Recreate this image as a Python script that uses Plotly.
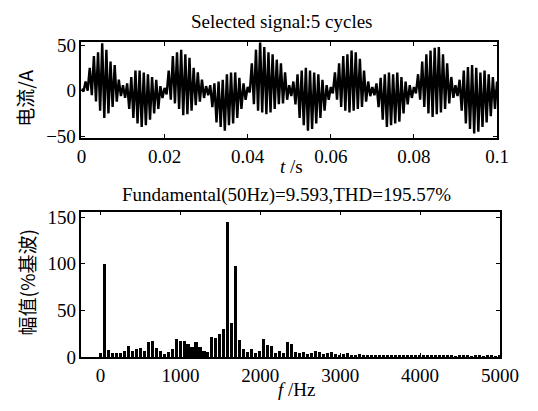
import plotly.graph_objects as go

# ---- top panel: signal envelope extremes (A) ----
t_step_ms = 1.0  # sampling of read-off extremes
upper_A = [2, 10, 25, 38, 42, 52, 45, 32, 28, 12,
           6, 8, 15, 22, 22, 20, 18, 15, 12, 5,
           3, 22, 38, 42, 45, 40, 36, 25, 20, 12,
           5, 6, 8, 10, 12, 18, 20, 20, 14, 8,
           4, 30, 45, 54, 48, 42, 40, 34, 30, 20,
           6, 10, 18, 22, 25, 22, 20, 18, 12, 6,
           4, 20, 30, 38, 40, 44, 42, 35, 22, 10,
           4, 8, 14, 18, 20, 18, 20, 15, 10, 6,
           4, 18, 32, 40, 44, 47, 48, 40, 30, 15,
           6, 12, 22, 26, 28, 25, 20, 22, 18, 15,
           10]
lower_A = [-1, 0, -5, -12, -22, -30, -25, -18, -12, -6,
           -8, -20, -30, -36, -40, -38, -32, -25, -20, -8,
           -4, -10, -14, -20, -27, -26, -22, -16, -12, -8,
           -5, -18, -35, -40, -44, -38, -36, -30, -20, -10,
           -2, -15, -22, -24, -26, -24, -20, -15, -14, -10,
           -6, -15, -30, -38, -44, -42, -36, -30, -22, -10,
           -3, -10, -18, -22, -24, -22, -20, -18, -12, -6,
           -5, -18, -32, -40, -38, -36, -34, -25, -15, -8,
           -3, -10, -18, -25, -29, -26, -24, -20, -14, -8,
           -6, -22, -36, -42, -47, -45, -40, -35, -28, -20]
top_xticks = [0, 0.02, 0.04, 0.06, 0.08, 0.1]
top_xticklabels = ["0", "0.02", "0.04", "0.06", "0.08", "0.1"]
top_yticks = [-50, 0, 50]
top_yticklabels = ["\u221250", "0", "50"]

# ---- bottom panel: harmonic spectrum (% of fundamental) ----
harmonic_order = list(range(0, 101))
f0_hz = 50
spectrum_pct = [5, 100, 8, 5, 5, 5, 6.5, 12, 6.5, 8.5,
                10, 7, 16, 18, 10, 7, 4, 6, 9, 20,
                18, 18, 14, 11, 16, 11, 7, 6, 22, 21,
                25, 30, 145, 37, 98, 19, 9, 6, 9, 5,
                7, 20, 13, 12, 5, 7, 5, 17, 14, 6,
                5, 6, 4, 5, 7, 6, 4, 5, 6, 4,
                3, 4, 5, 3, 3, 4, 3, 3, 2.5, 3,
                3, 2, 3, 2.5, 3, 2, 2.5, 3, 2, 2.5,
                2, 3, 2, 2, 2.5, 2, 2, 2.5, 2, 1.5,
                2, 2, 2.5, 1.5, 2, 2, 1.5, 2, 2, 1.5,
                2]
bot_xticks = [0, 1000, 2000, 3000, 4000, 5000]
bot_yticks = [0, 50, 100, 150]

# build the signal trace: alternate local maxima / minima in time order
sig_t, sig_i = [], []
for k in range(len(lower_A)):
    sig_t.append(k * t_step_ms / 1000)
    sig_i.append(upper_A[k])
    sig_t.append((k + 0.5) * t_step_ms / 1000)
    sig_i.append(lower_A[k])
sig_t.append((len(upper_A) - 1) * t_step_ms / 1000)
sig_i.append(upper_A[-1])

freq_hz = [n * f0_hz for n in harmonic_order]

W, H = 538, 411
def px_x(p): return p / W
def px_y(p): return 1 - p / H

SERIF = "Liberation Serif, Times New Roman, serif"
CJK = "Noto Sans CJK SC"
FS = 19

fig = go.Figure()
fig.add_trace(go.Scatter(x=sig_t, y=sig_i, mode="lines",
                         line=dict(color="black", width=2.4),
                         xaxis="x", yaxis="y", showlegend=False, hoverinfo="skip"))
fig.add_trace(go.Bar(x=freq_hz, y=spectrum_pct, width=38,
                     marker=dict(color="black", line=dict(width=0)),
                     xaxis="x2", yaxis="y2", showlegend=False))

axis_common = dict(showline=True, linecolor="black", linewidth=1.5, mirror="ticks",
                   ticks="inside", ticklen=4, tickwidth=1, tickcolor="black",
                   showgrid=False, zeroline=False,
                   tickfont=dict(family=SERIF, size=FS, color="black"))

fig.update_layout(
    width=W, height=H,
    margin=dict(l=0, r=0, t=0, b=0),
    paper_bgcolor="white", plot_bgcolor="white",
    bargap=0,
    xaxis=dict(domain=[px_x(80), px_x(515)], range=[0, 0.1], anchor="y",
               tickvals=top_xticks, ticktext=top_xticklabels, **axis_common),
    yaxis=dict(domain=[px_y(137), px_y(37)], range=[-52, 53], anchor="x",
               tickvals=top_yticks, ticktext=top_yticklabels, **axis_common),
    xaxis2=dict(domain=[px_x(80), px_x(518)], range=[-240, 5000], anchor="y2",
                tickvals=bot_xticks, **axis_common),
    yaxis2=dict(domain=[px_y(366), px_y(214)], range=[0, 156], anchor="x2",
                tickvals=bot_yticks, **axis_common),
)

ann = [
    dict(text="Selected signal:5 cycles", x=px_x(290), y=px_y(15),
         font=dict(family=SERIF, size=FS, color="black")),
    dict(text="<i>t</i> /s", x=px_x(300), y=px_y(167),
         font=dict(family=SERIF, size=FS, color="black")),
    dict(text="Fundamental(50Hz)=9.593,THD=195.57%", x=px_x(295), y=px_y(197),
         font=dict(family=SERIF, size=FS, color="black")),
    dict(text="<i>f</i> /Hz", x=px_x(305), y=px_y(400),
         font=dict(family=SERIF, size=FS, color="black")),
    dict(text="电流/A", x=px_x(21), y=px_y(96), textangle=-90,
         font=dict(family=CJK, size=FS, color="black")),
    dict(text="幅值(%基波)", x=px_x(22), y=px_y(288), textangle=-90,
         font=dict(family=CJK, size=FS, color="black")),
]
for a in ann:
    fig.add_annotation(xref="paper", yref="paper", showarrow=False,
                       xanchor="center", yanchor="middle", **a)

fig.write_html("out.html")
